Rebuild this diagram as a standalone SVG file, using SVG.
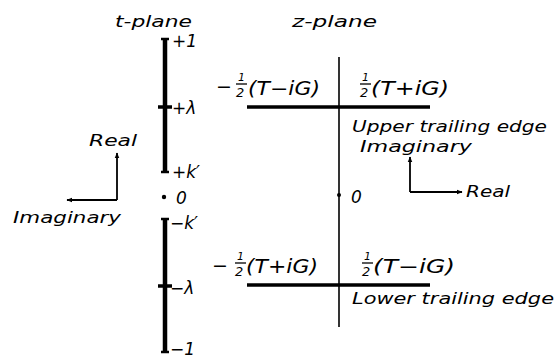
<svg xmlns="http://www.w3.org/2000/svg" width="558" height="358" viewBox="0 0 558 358">
<style>
text{font-family:"DejaVu Sans","Liberation Sans",sans-serif;font-style:italic;fill:#000}
.lbl{font-size:15px}
.tk{font-size:17px}
.big{font-size:19px}
.frac{font-size:11px}
.thick{stroke:#000;stroke-width:4.5;fill:none}
.edge{stroke:#000;stroke-width:3.5;fill:none}
.thin{stroke:#000;stroke-width:1.6;fill:none}
.ax{stroke:#000;stroke-width:1.8;fill:none}
</style>
<defs>
<marker id="ah" viewBox="0 0 10 10" refX="9" refY="5" markerWidth="6" markerHeight="6" orient="auto" markerUnits="userSpaceOnUse">
<path d="M0,1 L10,5 L0,9 Z" fill="#000"/>
</marker>
</defs>
<rect width="558" height="358" fill="#fff"/>

<g id="t-plane">
<text class="lbl" x="115" y="27" textLength="77" lengthAdjust="spacingAndGlyphs">t-plane</text>
<line class="thick" x1="165" y1="38" x2="165" y2="173"/>
<line class="thick" x1="161" y1="39" x2="169" y2="39" style="stroke-width:2.5"/>
<line class="thick" x1="161" y1="172" x2="169" y2="172" style="stroke-width:2.5"/>
<line class="thick" x1="158" y1="107" x2="172" y2="107" style="stroke-width:3.5"/>
<line class="thick" x1="165" y1="218" x2="165" y2="353"/>
<line class="thick" x1="161" y1="219" x2="169" y2="219" style="stroke-width:2.5"/>
<line class="thick" x1="161" y1="352" x2="169" y2="352" style="stroke-width:2.5"/>
<line class="thick" x1="158" y1="286" x2="172" y2="286" style="stroke-width:3.5"/>
<circle cx="164" cy="197" r="2.2" fill="#000"/>
<text class="tk" x="172" y="47">+1</text>
<text class="tk" x="172" y="114">+λ</text>
<text class="tk" x="172" y="178">+k′</text>
<text class="tk" x="176" y="204">0</text>
<text class="tk" x="170" y="229">−k′</text>
<text class="tk" x="170" y="294">−λ</text>
<text class="tk" x="170" y="355">−1</text>
</g>

<g id="t-axes">
<text class="lbl" x="89" y="146" textLength="48" lengthAdjust="spacingAndGlyphs">Real</text>
<text class="lbl" x="13" y="223" textLength="108" lengthAdjust="spacingAndGlyphs">Imaginary</text>
</g>

<g id="z-plane">
<text class="lbl" x="292" y="27" textLength="85" lengthAdjust="spacingAndGlyphs">z-plane</text>
<line class="thin" x1="339" y1="57" x2="339" y2="327"/>
<circle cx="339" cy="195" r="2" fill="#000"/>
<text class="tk" x="351" y="203">0</text>
</g>

<g id="upper-edge">
<line class="edge" x1="247" y1="107" x2="430" y2="107"/>
<text class="big" x="216" y="93">−</text>
<text class="frac" x="238" y="81">1</text>
<line x1="236" y1="84" x2="247" y2="84" stroke="#000" stroke-width="1.3"/>
<text class="frac" x="236" y="97" style="font-size:13px">2</text>
<text class="big" x="248" y="95" textLength="72" lengthAdjust="spacingAndGlyphs">(T−iG)</text>
<text class="frac" x="362" y="81">1</text>
<line x1="360" y1="84" x2="371" y2="84" stroke="#000" stroke-width="1.3"/>
<text class="frac" x="360" y="97" style="font-size:13px">2</text>
<text class="big" x="371" y="95" textLength="78" lengthAdjust="spacingAndGlyphs">(T+iG)</text>
<text class="lbl" x="352" y="132" textLength="195" lengthAdjust="spacingAndGlyphs">Upper trailing edge</text>
</g>

<g id="z-axes">
<text class="lbl" x="360" y="152" textLength="112" lengthAdjust="spacingAndGlyphs">Imaginary</text>
<text class="lbl" x="466" y="197" textLength="44" lengthAdjust="spacingAndGlyphs">Real</text>
</g>

<g id="lower-edge">
<line class="edge" x1="247" y1="285" x2="430" y2="285"/>
<text class="big" x="212" y="272">−</text>
<text class="frac" x="237" y="260">1</text>
<line x1="235" y1="263" x2="246" y2="263" stroke="#000" stroke-width="1.3"/>
<text class="frac" x="235" y="276" style="font-size:13px">2</text>
<text class="big" x="246" y="273" textLength="72" lengthAdjust="spacingAndGlyphs">(T+iG)</text>
<text class="frac" x="364" y="260">1</text>
<line x1="362" y1="263" x2="373" y2="263" stroke="#000" stroke-width="1.3"/>
<text class="frac" x="362" y="276" style="font-size:13px">2</text>
<text class="big" x="373" y="273" textLength="82" lengthAdjust="spacingAndGlyphs">(T−iG)</text>
<text class="lbl" x="352" y="304" textLength="202" lengthAdjust="spacingAndGlyphs">Lower trailing edge</text>
</g>

<g id="connectors">
<polyline class="ax" points="117,200 117,153" marker-end="url(#ah)"/>
<polyline class="ax" points="117,200 67,200" marker-end="url(#ah)"/>
<polyline class="ax" points="410,192 410,157" marker-end="url(#ah)"/>
<polyline class="ax" points="410,192 462,192" marker-end="url(#ah)"/>
</g>
</svg>
